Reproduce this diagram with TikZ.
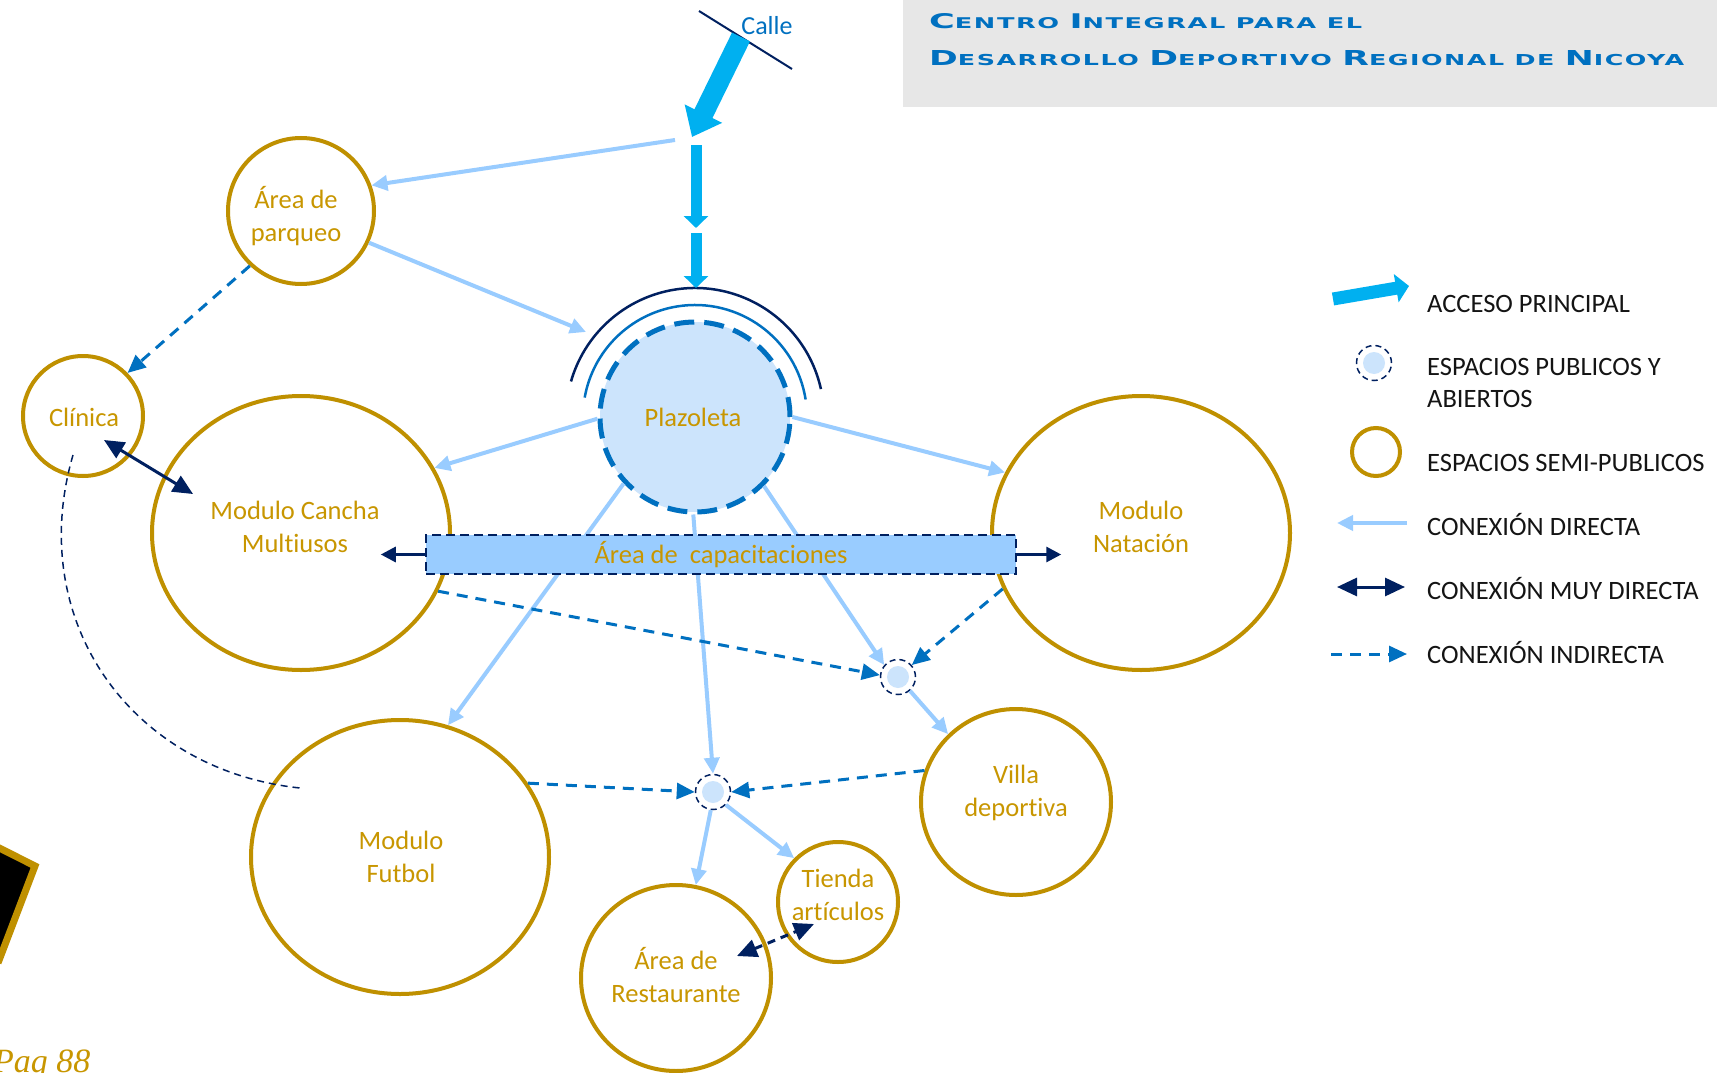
\documentclass[tikz,border=0pt]{standalone}
\usepackage{fontspec}
\setmainfont{Carlito}[Ligatures={NoCommon,NoContextual}]
\newfontfamily\titlefont[LetterSpace=6]{DejaVu Sans}
\newfontfamily\pagfont{Liberation Serif}
\usetikzlibrary{arrows.meta,calc,shapes.geometric}
\definecolor{gold}{RGB}{191,144,0}
\definecolor{goldtxt}{RGB}{200,150,0}
\definecolor{lblue}{RGB}{153,204,255}
\definecolor{iblue}{RGB}{0,112,192}
\definecolor{navy}{RGB}{0,32,96}
\definecolor{cyanacc}{RGB}{0,176,240}
\definecolor{plfill}{RGB}{204,228,252}
\definecolor{capfill}{RGB}{153,204,255}
\definecolor{titlegray}{RGB}{231,231,231}
\definecolor{legtxt}{RGB}{20,20,20}
\newcommand{\TC}[1]{{\fontsize{20.5}{20}\selectfont #1}}
\begin{document}
\begin{tikzpicture}[x=1pt,y=-1pt,
  lbl/.style={text=goldtxt, align=center, font=\fontsize{26.5}{33}\selectfont, inner sep=0pt},
  semi/.style={ellipse, draw=gold, line width=4pt, inner sep=0pt},
  semic/.style={circle, draw=gold, line width=4pt, inner sep=0pt},
  plaz/.style={circle, minimum size=190pt, inner sep=0pt, fill=plfill, draw=iblue, line width=5pt, dash pattern=on 20pt off 10pt},
  pub/.style={circle, minimum size=35pt, inner sep=0pt, draw=navy, line width=1.5pt, dash pattern=on 6pt off 4pt,
     path picture={\fill[plfill] (path picture bounding box.center) circle (11pt);}},
  capbox/.style={rectangle, fill=capfill, draw=navy, line width=2.5pt, dash pattern=on 9pt off 5pt, minimum width=590pt, minimum height=39pt, inner sep=0pt, text=goldtxt, font=\fontsize{26.5}{33}\selectfont},
  direct/.style={draw=lblue, line width=4pt, -{Triangle[length=16pt,width=15pt]}},
  indirect/.style={draw=iblue, line width=3pt, dash pattern=on 11pt off 8pt, -{Triangle[length=18pt,width=16pt]}},
  vdirect/.style={draw=navy, line width=3pt, {Triangle[length=20pt,width=18pt]}-{Triangle[length=20pt,width=18pt]}},
  capar/.style={draw=navy, line width=3pt, -{Triangle[length=15pt,width=15pt]}},
  access/.style={draw=cyanacc, line width=20pt, -{Triangle[length=26pt,width=40pt]}},
  legt/.style={anchor=base west, text=legtxt, font=\fontsize{26.5}{32}\selectfont, inner sep=0pt, align=left}
]
\useasboundingbox (0,0) rectangle (1717,1073);
\fill[white] (0,0) rectangle (1717,1073);

% title
\fill[titlegray] (903,0) rectangle (1717,107);
\node[anchor=west, inner sep=0pt, text=iblue] (t1) at (929,21)
  {\resizebox{433pt}{15pt}{\titlefont\bfseries\fontsize{15}{15}\selectfont \TC{C}ENTRO \TC{I}NTEGRAL PARA EL}};
\node[anchor=west, inner sep=0pt, text=iblue] (t2) at (929,58)
  {\resizebox{755pt}{15pt}{\titlefont\bfseries\fontsize{15}{15}\selectfont \TC{D}ESARROLLO \TC{D}EPORTIVO \TC{R}EGIONAL DE \TC{N}ICOYA}};

% bottom-left decoration
\coordinate (sq1) at (-60,818);
\coordinate (sq2) at (35,866);
\coordinate (sq3) at (-2,963);
\fill[black] (sq1) -- (sq2) -- (sq3) -- (-60,990) -- cycle;
\draw[gold, line width=7pt] (sq1) -- (sq2) -- (sq3);
\node[anchor=base west, inner sep=0pt, text=goldtxt, font=\pagfont\itshape\fontsize{34}{34}\selectfont] (pag) at (-7,1072) {Pag 88};

% street and access
\coordinate (calleA) at (699,11);
\coordinate (calleB) at (792,69);
\draw[navy, line width=2pt] (calleA) -- (calleB);
\node[text=iblue, font=\fontsize{26}{30}\selectfont] (calle) at (767,26) {Calle};

% nodes
\node[semic, minimum size=146pt] (park) at (301,211) {};
\node[semic, minimum size=120pt] (clin) at (83,416) {};
\node[semi, minimum width=298pt, minimum height=274pt] (canc) at (301,533) {};
\node[semi, minimum width=298pt, minimum height=274pt] (nat) at (1141,533) {};
\node[semi, minimum width=298pt, minimum height=274pt] (fut) at (400,857) {};
\node[semi, minimum width=190pt, minimum height=186pt] (villa) at (1016,802) {};
\node[semic, minimum size=120pt] (tienda) at (838,902) {};
\node[semi, minimum width=190pt, minimum height=186pt] (rest) at (676,978) {};
\node[plaz] (pl) at (695,417) {};
\node[pub] (p1) at (898,677) {};
\node[pub] (p2) at (713,792) {};

% labels
\node[lbl] (parkT) at (296,216) {Área de\\parqueo};
\node[lbl] (clinT) at (84,417) {Clínica};
\node[lbl] (cancT) at (295,527) {Modulo Cancha\\Multiusos};
\node[lbl] (natT) at (1141,527) {Modulo\\Natación};
\node[lbl] (futT) at (401,857) {Modulo\\Futbol};
\node[lbl] (villaT) at (1016,793) {Villa\\deportiva};
\node[lbl] (tiendaT) at (838,895) {Tienda\\artículos};
\node[lbl] (restT) at (676,975) {Área de\\Restaurante};
\node[lbl] (plT) at (693,417) {Plazoleta};

% arcs above plazoleta
\draw[navy, line width=2.5pt] ([shift={(-12.5:129)}]pl.center) arc[start angle=-12.5, end angle=-164, radius=129];
\draw[iblue, line width=2.5pt] ([shift={(-9:112)}]pl.center) arc[start angle=-9, end angle=-170, radius=112];

% access arrows
\coordinate (acc0) at (741,37);
\coordinate (acc1) at (692,137);
\draw[access] (acc0) -- (acc1);
\coordinate (v0) at (696,145);
\coordinate (v1) at (696,228);
\coordinate (v2) at (696,233);
\coordinate (v3) at ($(pl.center)+(1,-129)$);
\draw[draw=cyanacc, line width=11pt, -{Triangle[length=12pt,width=24pt]}] (v0) -- (v1);
\draw[draw=cyanacc, line width=11pt, -{Triangle[length=12pt,width=24pt]}] (v2) -- (v3);

% connectors
\coordinate (fork) at (675,140);
\coordinate (arcin) at ($(pl.center)+(-109,-85)$);
\draw[direct] (fork) -- (park.20);
\draw[direct] (park.-25) -- (arcin);
\draw[indirect] (park.227) -- (clin.44);
\draw[vdirect] ($(clin)+(21,24)$) -- ($(canc)+(-108,-39)$);
\draw[navy, line width=1.5pt, dash pattern=on 7pt off 5pt] ($(clin)+(-10,39)$) .. controls (25,620) and (130,770) .. ($(fut)+(-100,-69)$);
\draw[direct] (pl.181) -- (canc.26);
\draw[direct] (pl.0) -- (nat.156);
\draw[direct] (pl.223) -- (fut.70);
\draw[direct] (pl.269) -- (p2.north);
\draw[direct] (pl.-45) -- (p1.139);
\draw[indirect] (canc.-23) -- (p1.174);
\draw[indirect] (nat.202) -- (p1.41);
\draw[direct] (p1.-49) -- (villa.135);
\draw[indirect] (fut.30) -- (p2.180);
\draw[indirect] (villa.161) -- (p2.0);
\draw[direct] (p2.263) -- (rest.78);
\draw[direct] (p2.-45) -- (tienda.135);
\draw[vdirect, dash pattern=on 8pt off 6pt] ($(rest)+(61,-22)$) -- ($(tienda)+(-24,22)$);

% capacitaciones
\node[capbox] (cap) at (721,554.5) {Área de\ \ capacitaciones};
\coordinate (capL) at ($(cap.west)+(-44,0)$);
\coordinate (capR) at ($(cap.east)+(44,0)$);
\draw[capar] (cap.west) -- (capL);
\draw[capar] (cap.east) -- (capR);

% legend
\coordinate (la0) at (1333,299);
\coordinate (la1) at (1409,286);
\draw[draw=cyanacc, line width=13pt, -{Triangle[length=13pt,width=28pt]}] (la0) -- (la1);
\node[legt] (lt1) at (1427,312) {ACCESO PRINCIPAL};
\node[pub] (lpub) at (1374,363) {};
\node[legt] (lt2) at (1427,375) {ESPACIOS PUBLICOS Y};
\node[legt] (lt2b) at (1427,407) {ABIERTOS};
\node[circle, draw=gold, line width=4pt, minimum size=48pt, inner sep=0pt] (lsemi) at (1376,452) {};
\node[legt] (lt3) at (1427,471) {ESPACIOS SEMI-PUBLICOS};
\coordinate (ld0) at (1407,523);
\coordinate (ld1) at (1337,523);
\draw[direct] (ld0) -- (ld1);
\node[legt] (lt4) at (1427,535) {CONEXIÓN DIRECTA};
\coordinate (lm0) at (1337,587);
\coordinate (lm1) at (1405,587);
\draw[vdirect] (lm0) -- (lm1);
\node[legt] (lt5) at (1427,599) {CONEXIÓN MUY DIRECTA};
\coordinate (li0) at (1331,654);
\coordinate (li1) at (1407,654);
\draw[indirect] (li0) -- (li1);
\node[legt] (lt6) at (1427,663) {CONEXIÓN INDIRECTA};
\end{tikzpicture}
\end{document}
